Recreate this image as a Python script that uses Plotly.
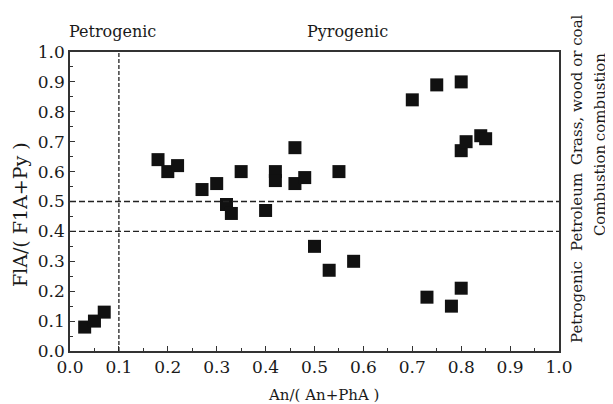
import plotly.graph_objects as go

# data
an_ratio = [0.03, 0.05, 0.07,
            0.18, 0.20, 0.22, 0.27, 0.30, 0.35,
            0.32, 0.33, 0.40,
            0.42, 0.42, 0.46, 0.46, 0.48, 0.55,
            0.70, 0.75, 0.80,
            0.80, 0.81, 0.84, 0.85,
            0.50, 0.53, 0.58,
            0.73, 0.78, 0.80]
fla_ratio = [0.08, 0.10, 0.13,
             0.64, 0.60, 0.62, 0.54, 0.56, 0.60,
             0.49, 0.46, 0.47,
             0.60, 0.57, 0.68, 0.56, 0.58, 0.60,
             0.84, 0.89, 0.90,
             0.67, 0.70, 0.72, 0.71,
             0.35, 0.27, 0.30,
             0.18, 0.15, 0.21]

x_threshold = [0.1]
y_thresholds = [0.4, 0.5]
tick_vals = [0.0, 0.1, 0.2, 0.3, 0.4, 0.5, 0.6, 0.7, 0.8, 0.9, 1.0]

FONT = "DejaVu Serif"
TXT = "#1a1a1a"

fig = go.Figure()
fig.add_trace(go.Scatter(
    x=an_ratio, y=fla_ratio, mode="markers",
    marker=dict(symbol="square", size=13, color="#111111", line=dict(width=0)),
    cliponaxis=False, showlegend=False,
))

for xv in x_threshold:
    fig.add_shape(type="line", xref="x", yref="y", x0=xv, x1=xv, y0=0, y1=1,
                  line=dict(color="#222222", width=1.3, dash="4px,2px"))
for yv in y_thresholds:
    fig.add_shape(type="line", xref="x", yref="y", x0=0, x1=1, y0=yv, y1=yv,
                  line=dict(color="#222222", width=1.3, dash="6px,3px"))

axis_common = dict(
    range=[0, 1], tickvals=tick_vals, tickformat=".1f",
    ticks="inside", ticklen=5, tickwidth=1.2, tickcolor="#333333",
    minor=dict(dtick=0.05, ticks="inside", ticklen=3, tickwidth=1, tickcolor="#333333"),
    showline=True, linecolor="#333333", linewidth=1.5, mirror=True,
    showgrid=False, zeroline=False, automargin=False,
    tickfont=dict(family=FONT, size=17, color=TXT),
)

fig.update_xaxes(**axis_common)
fig.update_yaxes(**axis_common)

annotations = [
    dict(text="An/( An+PhA )", x=0.519, y=-0.147, textangle=0, size=15),
    dict(text="FlA/( F1A+Py )", x=-0.102, y=0.455, textangle=-90, size=19),
    dict(text="Petrogenic", x=0.086, y=1.070, textangle=0, size=16),
    dict(text="Pyrogenic", x=0.567, y=1.070, textangle=0, size=16),
    dict(text="Petrogenic", x=1.0368, y=0.164, textangle=-90, size=15),
    dict(text="Petroleum", x=1.0368, y=0.465, textangle=-90, size=15),
    dict(text="Grass, wood or coal", x=1.0368, y=0.876, textangle=-90, size=15),
    dict(text="Combustion", x=1.0838, y=0.538, textangle=-90, size=15),
    dict(text="combustion", x=1.0838, y=0.849, textangle=-90, size=15),
]
for a in annotations:
    fig.add_annotation(text=a["text"], x=a["x"], y=a["y"], xref="paper", yref="paper",
                       xanchor="center", yanchor="middle", textangle=a["textangle"],
                       showarrow=False, font=dict(family=FONT, size=a["size"], color=TXT))

# the page has an 8px body margin, so the figure is sized to fit the window
fig.update_layout(
    width=605, height=396,
    margin=dict(l=62, r=54, t=44, b=53),
    paper_bgcolor="white", plot_bgcolor="white",
)

fig.write_html("out.html")
